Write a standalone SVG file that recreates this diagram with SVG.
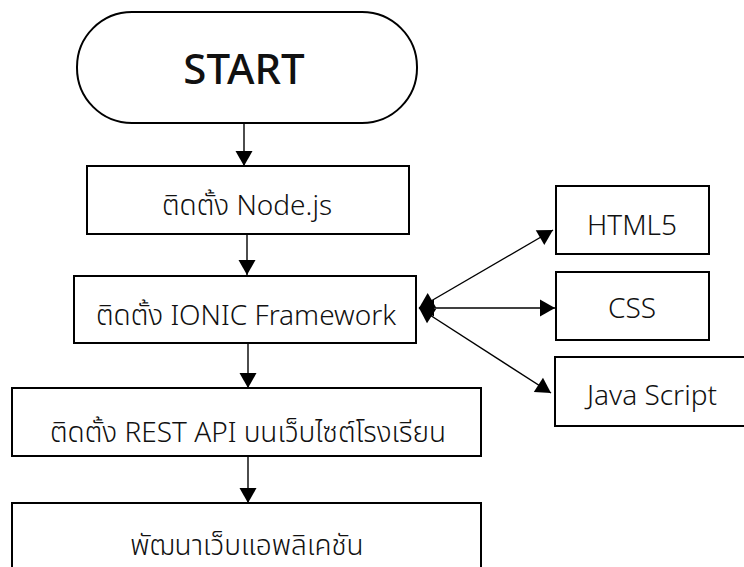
<svg xmlns="http://www.w3.org/2000/svg" width="744" height="567" viewBox="0 0 744 567">
<style>
.box{fill:#fff;stroke:#000;stroke-width:2}
.t{font-family:"Noto Sans","Noto Sans Thai","DejaVu Sans",sans-serif;font-size:28px;font-weight:300;fill:#111;text-anchor:middle}
.big{font-size:42px;font-weight:500}
.c{stroke:#000;stroke-width:1.4;fill:none}
</style>
<defs>
<marker id="ah" markerUnits="userSpaceOnUse" markerWidth="18" markerHeight="18" viewBox="0 0 18 18" refX="16" refY="9" orient="auto-start-reverse">
<path d="M1,0.5 L16,9 L1,17.5 z" fill="#000"/>
</marker>
</defs>
<rect width="744" height="567" fill="#fff"/>
<g id="connectors">
<line class="c" x1="244" y1="123" x2="244" y2="166" marker-end="url(#ah)"/>
<line class="c" x1="247" y1="234" x2="247" y2="275" marker-end="url(#ah)"/>
<line class="c" x1="248" y1="343" x2="248" y2="388" marker-end="url(#ah)"/>
<line class="c" x1="248" y1="456" x2="248" y2="503" marker-end="url(#ah)"/>
<line class="c" x1="419" y1="308" x2="553" y2="230" marker-start="url(#ah)" marker-end="url(#ah)"/>
<line class="c" x1="419" y1="308" x2="555" y2="308" marker-start="url(#ah)" marker-end="url(#ah)"/>
<line class="c" x1="419" y1="308" x2="551" y2="393" marker-start="url(#ah)" marker-end="url(#ah)"/>
</g>
<g id="start">
<rect class="box" x="77" y="12" width="340" height="111" rx="55" ry="55"/>
<text class="t big" x="244" y="84">START</text>
</g>
<g id="node-nodejs">
<rect class="box" x="87" y="166" width="322" height="68"/>
<text class="t" x="247" y="215">ติดตั้ง Node.js</text>
</g>
<g id="node-ionic">
<rect class="box" x="74" y="276" width="342" height="67"/>
<text class="t" x="246" y="325">ติดตั้ง IONIC Framework</text>
</g>
<g id="node-rest">
<rect class="box" x="12" y="388" width="469" height="68"/>
<text class="t" x="248" y="442">ติดตั้ง REST API บนเว็บไซต์โรงเรียน</text>
</g>
<g id="node-dev">
<rect class="box" x="12" y="503" width="469" height="80"/>
<text class="t" x="247" y="555">พัฒนาเว็บแอพลิเคชัน</text>
</g>
<g id="node-html5">
<rect class="box" x="556" y="186" width="153" height="68"/>
<text class="t" x="632" y="235">HTML5</text>
</g>
<g id="node-css">
<rect class="box" x="556" y="272" width="153" height="68"/>
<text class="t" x="632" y="318">CSS</text>
</g>
<g id="node-js">
<rect class="box" x="555" y="357" width="200" height="69"/>
<text class="t" x="652" y="405">Java Script</text>
</g>
</svg>
